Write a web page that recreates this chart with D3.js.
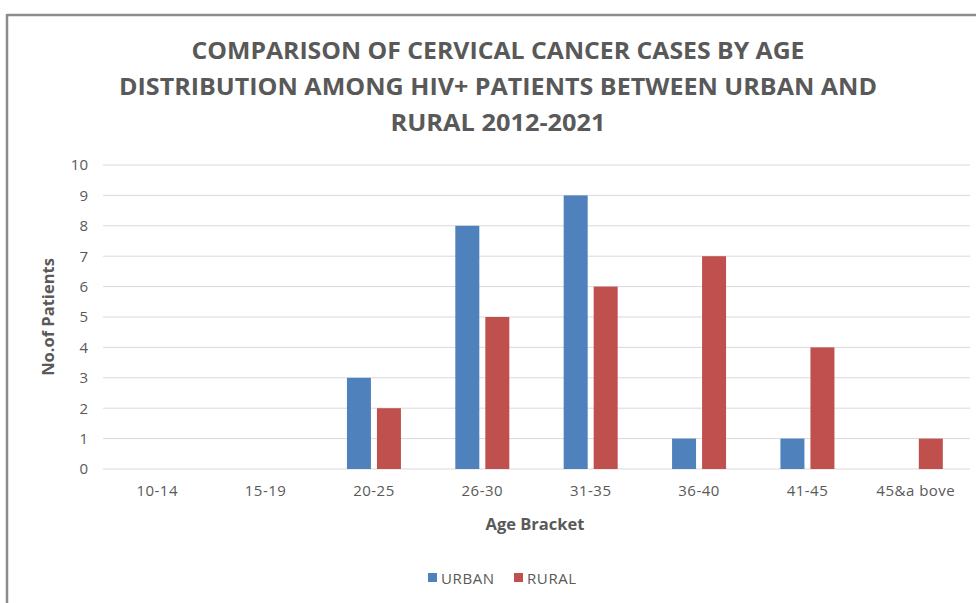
<!DOCTYPE html>
<html>
<head>
<meta charset="utf-8">
<script src="https://d3js.org/d3.v7.min.js"></script>
<style>
  body { margin: 0; background: #fff; }
  text { font-family: "Open Sans", "Liberation Sans", sans-serif; fill: #595959; }
</style>
</head>
<body>
<div id="chart"></div>
<script>
// data
var ageBrackets = ["10-14", "15-19", "20-25", "26-30", "31-35", "36-40", "41-45", "45&a bove"];
var urban = [0, 0, 3, 8, 9, 1, 1, 0];
var rural = [0, 0, 2, 5, 6, 7, 4, 1];
var seriesNames = ["URBAN", "RURAL"];
var yTicks = [0, 1, 2, 3, 4, 5, 6, 7, 8, 9, 10];
var titleLines = [
  "COMPARISON OF CERVICAL CANCER CASES BY AGE",
  "DISTRIBUTION AMONG HIV+ PATIENTS BETWEEN URBAN AND",
  "RURAL 2012-2021"
];

var width = 976, height = 603;
var colors = ["#4F81BD", "#C0504D"];
var margin = { left: 103, right: 6, top: 165, bottom: 134 };

var svg = d3.select("#chart").append("svg")
  .attr("width", width).attr("height", height);

// outer frame (only top and left edges show)
svg.append("line").attr("x1", 7).attr("x2", width).attr("y1", 15).attr("y2", 15)
  .attr("stroke", "#8c8c8c").attr("stroke-width", 2.5);
svg.append("line").attr("x1", 7).attr("x2", 7).attr("y1", 14).attr("y2", height)
  .attr("stroke", "#8c8c8c").attr("stroke-width", 2.5);

// title
var titleWidths = [613, 758, 215];
svg.selectAll(".title").data(titleLines).enter().append("text")
  .attr("class", "title")
  .attr("x", 498)
  .attr("y", function(d, i) { return 59 + i * 36; })
  .attr("text-anchor", "middle")
  .attr("textLength", function(d, i) { return titleWidths[i]; })
  .attr("lengthAdjust", "spacingAndGlyphs")
  .style("font-size", "23px")
  .style("font-weight", "bold")
  .text(function(d) { return d; });

var x = d3.scaleBand().domain(ageBrackets)
  .range([margin.left, width - margin.right]);
var y = d3.scaleLinear().domain([0, 10])
  .range([height - margin.bottom, margin.top]);

// gridlines
svg.append("g").selectAll("line").data(yTicks).enter().append("line")
  .attr("x1", margin.left).attr("x2", width - margin.right)
  .attr("y1", function(d) { return y(d); }).attr("y2", function(d) { return y(d); })
  .attr("stroke", "#d9d9d9").attr("stroke-width", 1);

// y axis labels
var yAxis = svg.append("g")
  .attr("transform", "translate(" + margin.left + ",0)")
  .call(d3.axisLeft(y).tickValues(yTicks).tickSize(0).tickPadding(15));
yAxis.select(".domain").remove();
yAxis.selectAll("text").style("font-size", "15px").attr("fill", "#595959")
  .style("font-family", "'Open Sans', sans-serif");

// x axis labels
var xAxis = svg.append("g")
  .attr("transform", "translate(0," + y(0) + ")")
  .call(d3.axisBottom(x).tickSize(0).tickPadding(16));
xAxis.select(".domain").remove();
xAxis.selectAll("text").style("font-size", "15px").attr("fill", "#595959")
  .style("font-family", "'Open Sans', sans-serif").style("letter-spacing", "0.5px");

// bars
var barW = 24, gap = 6;
[urban, rural].forEach(function(vals, s) {
  var rows = vals.map(function(v, i) { return { cat: ageBrackets[i], v: v }; })
    .filter(function(d) { return d.v > 0; });
  svg.append("g").attr("class", "bars").selectAll("rect").data(rows).enter().append("rect")
    .attr("x", function(d) {
      var c = x(d.cat) + x.bandwidth() / 2;
      return s === 0 ? c - gap / 2 - barW : c + gap / 2;
    })
    .attr("y", function(d) { return y(d.v); })
    .attr("width", barW)
    .attr("height", function(d) { return y(0) - y(d.v); })
    .attr("fill", colors[s]);
});

// axis titles
svg.append("text")
  .attr("transform", "translate(54,317) rotate(-90)")
  .attr("text-anchor", "middle")
  .style("font-size", "16.5px").style("font-weight", "bold")
  .text("No.of Patients");
svg.append("text")
  .attr("x", 535).attr("y", 530)
  .attr("text-anchor", "middle")
  .style("font-size", "16.5px").style("font-weight", "bold")
  .text("Age Bracket");

// legend
var legendX = [428, 514];
var legend = svg.selectAll(".legend").data(seriesNames).enter().append("g")
  .attr("class", "legend")
  .attr("transform", function(d, i) { return "translate(" + legendX[i] + ",578)"; });
legend.append("rect").attr("x", 0).attr("y", -5).attr("width", 9).attr("height", 9)
  .attr("fill", function(d, i) { return colors[i]; });
legend.append("text").attr("x", 13).attr("y", 5.5)
  .style("font-size", "15px").style("letter-spacing", "0.6px")
  .text(function(d) { return d; });
</script>
</body>
</html>
